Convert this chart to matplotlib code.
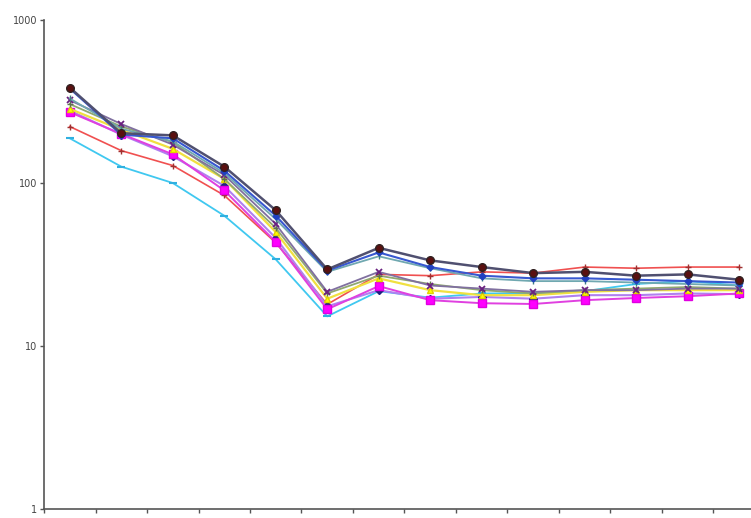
import numpy as np
import matplotlib
matplotlib.use('Agg')
import matplotlib.pyplot as plt
from matplotlib.ticker import FixedLocator, NullLocator, FixedFormatter

# categories (no labels visible on the x axis)
n_points = 14
x = np.arange(n_points)

# series values
s_dark = [385, 202, 196, 126, 68, 29.5, 40, 33.5, 30.5, 28, 28.5, 27, 27.5, 25.5]
s_blue = [380, 198, 188, 119, 63, 29, 37.5, 30.5, 27, 26, 26, 25.5, 25, 24.5]
s_teal = [330, 215, 180, 115, 60, 28.5, 35.5, 30, 26, 25, 25, 24.5, 24, 23.5]
s_purple = [322, 230, 172, 112, 56, 21.5, 28.5, 23.5, 22.5, 21.5, 22, 22, 22.5, 22.5]
s_olive = [305, 222, 178, 106, 53, 21, 27, 24, 22, 21, 22, 22.5, 23, 22.5]
s_yellow = [285, 212, 162, 106, 50, 19.5, 26, 22, 20.5, 20.5, 21.5, 22, 22, 22]
s_violet = [278, 198, 146, 96, 46, 17.5, 22, 19.5, 20, 19.5, 20.5, 20.5, 21, 20.8]
s_magenta = [272, 200, 150, 90, 43.5, 16.8, 23.3, 19.1, 18.3, 18.1, 19.1, 19.7, 20.2, 21]
s_red = [222, 158, 128, 84, 43, 18, 27.5, 27, 28.5, 28, 30.5, 30, 30.5, 30.5]
s_cyan = [188, 126, 100, 63, 34, 15.2, 21.7, 19.8, 21, 21.1, 21.7, 24, 25, 23.5]

y_ticks = [1, 10, 100, 1000]

fig = plt.figure(figsize=(7.51, 5.18), dpi=100)
ax = fig.add_axes([0.0586, 0.0174, 0.96, 0.944])

# order: bottom layers first
ax.plot(x, s_cyan, color='#40c8f0', lw=1.3, marker='_', ms=6, mew=1.5, mec='#30b0e0')
ax.plot(x, s_red, color='#f05050', lw=1.2, marker='+', ms=4, mew=1, mec='#a03030')
ax.plot(x, s_violet, color='#b080f0', lw=1.5, marker='D', ms=4, mfc='#202080', mec='#202080')
ax.plot(x, s_magenta, color='#e040e0', lw=1.4, marker='s', ms=6, mfc='#ff00ff', mec='#e000e0')
ax.plot(x, s_yellow, color='#f0e040', lw=1.6, marker='^', ms=5, mfc='#ffff00', mec='#e0d000')
ax.plot(x, s_olive, color='#90a870', lw=1.3, marker='+', ms=4, mew=1, mec='#607050')
ax.plot(x, s_purple, color='#8070a0', lw=1.3, marker='x', ms=5, mew=1.3, mec='#6a2080')
ax.plot(x, s_teal, color='#70a8b0', lw=1.3, marker='|', ms=4, mec='#408080')
ax.plot(x, s_blue, color='#3858d0', lw=1.5, marker='D', ms=3.5, mfc='#2040c0', mec='#2040c0')
ax.plot(x, s_dark, color='#505070', lw=1.8, marker='o', ms=5.5, mfc='#5a1010', mec='#302020')

ax.set_yscale('log')
ax.set_ylim(1, 1000)
ax.set_xlim(-0.5, n_points - 0.5)

ax.yaxis.set_major_locator(FixedLocator(y_ticks))
ax.yaxis.set_major_formatter(FixedFormatter([str(v) for v in y_ticks]))
ax.yaxis.set_minor_locator(NullLocator())
ax.xaxis.set_major_locator(FixedLocator(np.arange(n_points + 1) - 0.5))
ax.set_xticklabels([])

for side in ['top', 'right']:
    ax.spines[side].set_visible(False)
for side in ['left', 'bottom']:
    ax.spines[side].set_color('#555555')
    ax.spines[side].set_linewidth(1.2)

ax.tick_params(axis='both', direction='out', length=3, width=1, color='#555555',
               labelsize=7, labelcolor='#444444', pad=2)

fig.savefig('out.png', dpi=100, facecolor='white')
